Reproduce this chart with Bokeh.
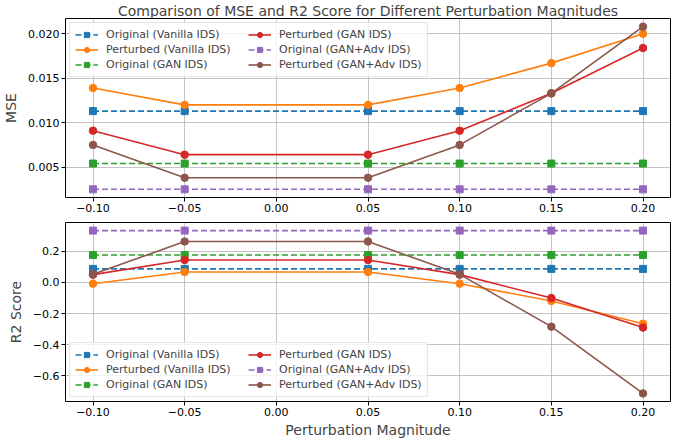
from bokeh.plotting import figure
from bokeh.layouts import column
from bokeh.models import Range1d, FixedTicker, CustomJSTickFormatter, Legend, LegendItem
from bokeh.embed import file_html
from bokeh.resources import INLINE

# ---- data ----
magnitudes = [-0.10, -0.05, 0.05, 0.10, 0.15, 0.20]

mse_orig_vanilla = [0.0113, 0.0113, 0.0113, 0.0113, 0.0113, 0.0113]
mse_pert_vanilla = [0.0139, 0.0120, 0.0120, 0.0139, 0.0167, 0.0200]
mse_orig_gan = [0.0054, 0.0054, 0.0054, 0.0054, 0.0054, 0.0054]
mse_pert_gan = [0.0091, 0.0064, 0.0064, 0.0091, 0.0133, 0.0184]
mse_orig_adv = [0.0025, 0.0025, 0.0025, 0.0025, 0.0025, 0.0025]
mse_pert_adv = [0.0075, 0.0038, 0.0038, 0.0075, 0.0133, 0.0208]

r2_orig_vanilla = [0.087, 0.087, 0.087, 0.087, 0.087, 0.087]
r2_pert_vanilla = [-0.008, 0.067, 0.067, -0.008, -0.119, -0.265]
r2_orig_gan = [0.176, 0.176, 0.176, 0.176, 0.176, 0.176]
r2_pert_gan = [0.050, 0.144, 0.144, 0.050, -0.100, -0.290]
r2_orig_adv = [0.333, 0.333, 0.333, 0.333, 0.333, 0.333]
r2_pert_adv = [0.052, 0.263, 0.263, 0.052, -0.284, -0.713]

labels = ["Original (Vanilla IDS)", "Perturbed (Vanilla IDS)", "Original (GAN IDS)",
          "Perturbed (GAN IDS)", "Original (GAN+Adv IDS)", "Perturbed (GAN+Adv IDS)"]
colors = ["#1f77b4", "#ff7f0e", "#2ca02c", "#d62728", "#9467bd", "#8c564b"]
x_ticks = [-0.10, -0.05, 0.00, 0.05, 0.10, 0.15, 0.20]
mse_ticks = [0.005, 0.010, 0.015, 0.020]
r2_ticks = [-0.6, -0.4, -0.2, 0.0, 0.2]

FONT = "DejaVu Sans"


def fmt(dec):
    return CustomJSTickFormatter(code="""
        var t = Math.abs(tick) < 1e-9 ? 0 : tick;
        var s = Math.abs(t).toFixed(%d);
        return (t < 0 ? '\\u2212' : '') + s;
    """ % dec)


def make_fig(top, bottom, yrange, yticks, ydec, ylabel, xlabel=None, title=None):
    p = figure(frame_width=605, frame_height=179, output_backend="svg", toolbar_location=None,
               x_range=Range1d(-0.115, 0.215), y_range=Range1d(*yrange),
               min_border_left=61, min_border_right=6, min_border_top=top,
               min_border_bottom=bottom, title=title)
    p.outline_line_color = "black"
    p.outline_line_width = 1
    p.background_fill_color = "white"
    p.border_fill_color = "white"
    if title:
        p.title.text_font = FONT
        p.title.text_font_size = "14px"
        p.title.text_font_style = "normal"
        p.title.align = "center"
        p.title.standoff = 0
        p.title.offset = 0
    for ax, ticks, dec in ((p.xaxis[0], x_ticks, 2), (p.yaxis[0], yticks, ydec)):
        ax.ticker = FixedTicker(ticks=ticks)
        ax.formatter = fmt(dec)
        ax.minor_tick_line_color = None
        ax.major_tick_in = 0
        ax.major_tick_out = 4
        ax.major_label_standoff = 2
        ax.major_label_text_font = FONT
        ax.major_label_text_font_size = "11px"
        ax.major_label_text_color = "black"
        ax.axis_line_color = None
        ax.major_tick_line_color = "black"
        ax.axis_label_text_font = FONT
        ax.axis_label_text_font_size = "14px"
        ax.axis_label_text_font_style = "normal"
        ax.axis_label_standoff = 3
    p.yaxis[0].axis_label = ylabel
    p.yaxis[0].axis_label_standoff = 6
    if xlabel:
        p.xaxis[0].axis_label = xlabel
    p.grid.grid_line_color = "#b0b0b0"
    p.grid.grid_line_alpha = 0.75
    p.grid.grid_line_width = 1
    return p


def draw(p, series, loc):
    items = []
    for i, (vals, lab, col) in enumerate(zip(series, labels, colors)):
        if i in (0, 2, 4):
            ln = p.line(magnitudes, vals, color=col, line_width=1.6, line_dash="6 3")
            mk = p.scatter(magnitudes, vals, marker="square", size=7, color=col)
        else:
            ln = p.line(magnitudes, vals, color=col, line_width=1.6)
            mk = p.scatter(magnitudes, vals, marker="circle", size=7.5, color=col)
        items.append(LegendItem(label=lab, renderers=[ln, mk]))
    leg = Legend(items=items, location=loc, nrows=3, orientation="vertical")
    leg.label_text_font = FONT
    leg.label_text_font_size = "11px"
    leg.glyph_width = 23
    leg.glyph_height = 13
    leg.label_height = 13
    leg.label_width = 140
    leg.label_standoff = 8
    leg.spacing = 2
    leg.padding = 5
    leg.margin = 4
    leg.border_line_color = "#cccccc"
    leg.border_line_width = 1
    leg.background_fill_alpha = 0.8
    p.add_layout(leg)


top = make_fig(13, 21, (0.00158, 0.02172), mse_ticks, 3, "MSE",
               title="Comparison of MSE and R2 Score for Different Perturbation Magnitudes")
draw(top, [mse_orig_vanilla, mse_pert_vanilla, mse_orig_gan, mse_pert_gan,
           mse_orig_adv, mse_pert_adv], "top_left")

bot = make_fig(4, 34, (-0.765, 0.385), r2_ticks, 1, "R2 Score",
               xlabel="Perturbation Magnitude")
draw(bot, [r2_orig_vanilla, r2_pert_vanilla, r2_orig_gan, r2_pert_gan,
           r2_orig_adv, r2_pert_adv], "bottom_left")

layout = column(top, bot, spacing=0)
open("out.html", "w").write(file_html(layout, INLINE))
